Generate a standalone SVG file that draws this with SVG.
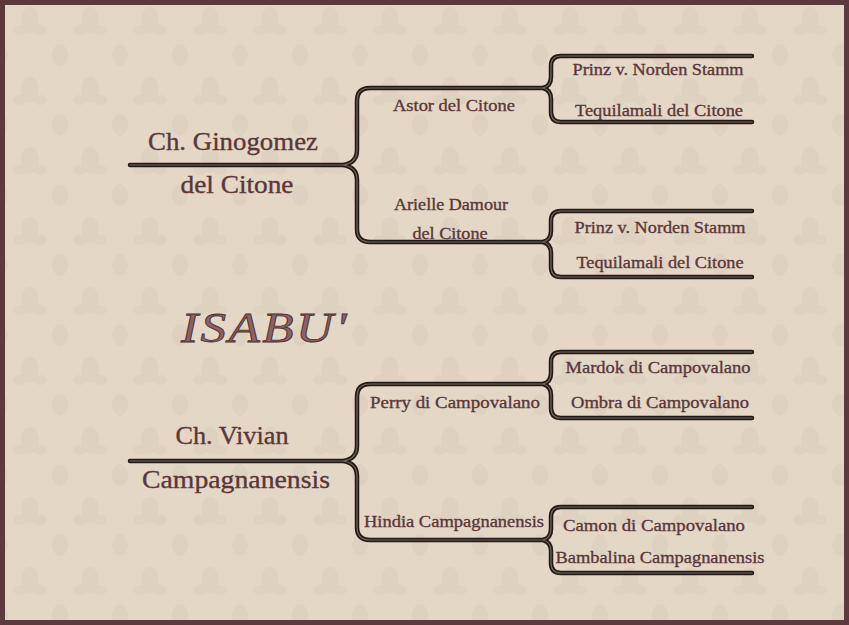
<svg xmlns="http://www.w3.org/2000/svg" width="849" height="625" viewBox="0 0 849 625">
<defs>
<pattern id="damask" width="60" height="70" patternUnits="userSpaceOnUse">
<rect width="60" height="70" fill="#e4d7c6"/>
<g fill="#d8c9b6" opacity="0.45">
<ellipse cx="30" cy="20" rx="9" ry="13"/>
<ellipse cx="20" cy="30" rx="7" ry="5"/>
<ellipse cx="40" cy="30" rx="7" ry="5"/>
<ellipse cx="0" cy="55" rx="8" ry="11"/>
<ellipse cx="60" cy="55" rx="8" ry="11"/>
</g>
</pattern>
<style>
.conn-o{fill:none;stroke:#201b17;stroke-width:4.5;stroke-linecap:round;stroke-linejoin:round}
.conn-i{fill:none;stroke:#7a6550;stroke-width:1.2;stroke-linecap:round;stroke-linejoin:round}
text{font-family:"Liberation Serif","DejaVu Serif",serif;fill:#5a3739;text-anchor:middle;stroke:#5a3739;stroke-width:0.35}
.big{font-size:25px}
.mid{font-size:17px}
.title{font-size:42px;font-style:italic;fill:#8a6264;stroke:#4a2c2e;stroke-width:0.8;letter-spacing:2px}
</style>
<path id="conns" d="M130,165 L343,165 Q357,163 357,150 L357,101 Q357,88 370,88 L543,88 Q551,86 551,77 L551,66 Q551,56 561,56 L752,56 M543,88 Q551,90 551,99 L551,112 Q551,122 561,122 L752,122 M343,165 Q357,167 357,180 L357,229 Q357,242 370,242 L543,242 Q551,240 551,231 L551,221 Q551,211 561,211 L752,211 M543,242 Q551,244 551,253 L551,267 Q551,277 561,277 L752,277 M130,461 L343,461 Q357,459 357,446 L357,397 Q357,384 370,384 L543,384 Q551,382 551,373 L551,362 Q551,352 561,352 L752,352 M543,384 Q551,386 551,395 L551,408 Q551,418 561,418 L752,418 M343,461 Q357,463 357,476 L357,527 Q357,540 370,540 L543,540 Q551,538 551,529 L551,517 Q551,507 561,507 L752,507 M543,540 Q551,542 551,551 L551,563 Q551,573 561,573 L752,573"/>
</defs>
<rect x="0" y="0" width="849" height="625" fill="url(#damask)"/>
<rect x="2.5" y="2.5" width="844" height="620" fill="none" stroke="#5b3a3b" stroke-width="5"/>
<g id="connectors">
<use href="#conns" class="conn-o"/>
<use href="#conns" class="conn-i"/>
</g>
<g id="title"><text class="title" x="265" y="342" textLength="168" lengthAdjust="spacingAndGlyphs">ISABU'</text></g>
<g id="sire"><text class="big" x="233" y="150" textLength="170" lengthAdjust="spacingAndGlyphs">Ch. Ginogomez</text><text class="big" x="237" y="193" textLength="113" lengthAdjust="spacingAndGlyphs">del Citone</text></g>
<g id="ss"><text class="mid" x="454" y="111" textLength="122" lengthAdjust="spacingAndGlyphs">Astor del Citone</text></g>
<g id="sd"><text class="mid" x="451" y="210" textLength="114" lengthAdjust="spacingAndGlyphs">Arielle Damour</text><text class="mid" x="450" y="239" textLength="75" lengthAdjust="spacingAndGlyphs">del Citone</text></g>
<g id="sss"><text class="mid" x="658" y="75" textLength="171" lengthAdjust="spacingAndGlyphs">Prinz v. Norden Stamm</text></g>
<g id="ssd"><text class="mid" x="659" y="116" textLength="168" lengthAdjust="spacingAndGlyphs">Tequilamali del Citone</text></g>
<g id="sds"><text class="mid" x="660" y="233" textLength="171" lengthAdjust="spacingAndGlyphs">Prinz v. Norden Stamm</text></g>
<g id="sdd"><text class="mid" x="660" y="268" textLength="167" lengthAdjust="spacingAndGlyphs">Tequilamali del Citone</text></g>
<g id="dam"><text class="big" x="232" y="444" textLength="113" lengthAdjust="spacingAndGlyphs">Ch. Vivian</text><text class="big" x="236" y="488" textLength="188" lengthAdjust="spacingAndGlyphs">Campagnanensis</text></g>
<g id="ds"><text class="mid" x="455" y="408" textLength="170" lengthAdjust="spacingAndGlyphs">Perry di Campovalano</text></g>
<g id="dd"><text class="mid" x="454" y="527" textLength="180" lengthAdjust="spacingAndGlyphs">Hindia Campagnanensis</text></g>
<g id="dss"><text class="mid" x="658" y="373" textLength="185" lengthAdjust="spacingAndGlyphs">Mardok di Campovalano</text></g>
<g id="dsd"><text class="mid" x="660" y="408" textLength="178" lengthAdjust="spacingAndGlyphs">Ombra di Campovalano</text></g>
<g id="dds"><text class="mid" x="654" y="531" textLength="182" lengthAdjust="spacingAndGlyphs">Camon di Campovalano</text></g>
<g id="ddd"><text class="mid" x="660" y="563" textLength="209" lengthAdjust="spacingAndGlyphs">Bambalina Campagnanensis</text></g>
</svg>
